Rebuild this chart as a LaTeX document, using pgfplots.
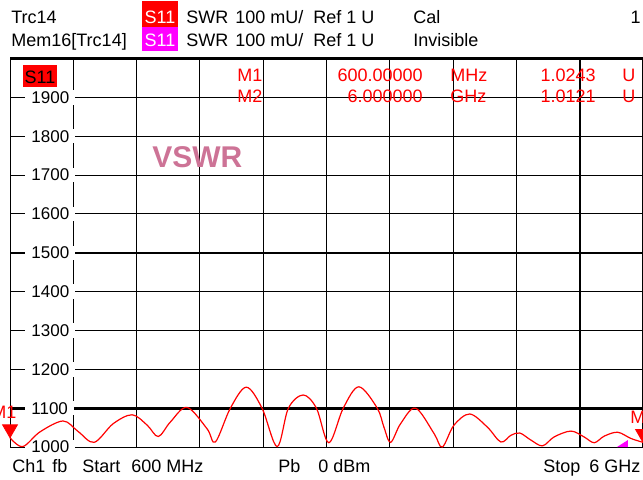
\documentclass[border=0pt]{standalone}
\usepackage{pgfplots}
\pgfplotsset{compat=1.18}
\usepackage{fontspec}
\setmainfont{Liberation Sans}
\definecolor{vswrpink}{RGB}{205,115,150}
\definecolor{trcred}{RGB}{255,0,0}
\definecolor{memmag}{RGB}{255,0,255}
\begin{document}
\begin{tikzpicture}
\begin{axis}[
  set layers,
  at={(5pt,-223.5pt)}, anchor=south west,
  scale only axis, width=316.5pt, height=194.25pt,
  xmin=600, xmax=6000, ymin=1000, ymax=2000,
  xtick={600,1140,1680,2220,2760,3300,3840,4380,4920,5460,6000},
  xticklabels={},
  ytick={1000,1100,1200,1300,1400,1500,1600,1700,1800,1900},
  yticklabels={1000,1100,1200,1300,1400,1500,1600,1700,1800,1900},
  major tick length=0pt,
  grid=major,
  grid style={black, line width=0.5pt},
  axis line style={black, line width=0.5pt},
  yticklabel style={anchor=west, xshift=7.5pt, fill=white, inner xsep=3pt, inner ysep=0.6pt, font=\fontsize{8.5}{10}\selectfont},
  clip=false,
]
\addplot[on layer=axis grid, black, line width=1.5pt] coordinates {(600,1100) (6000,1100)};
\addplot[on layer=axis grid, black, line width=1pt] coordinates {(600,1500) (6000,1500)};
\addplot[on layer=axis grid, black, line width=1pt] coordinates {(5460,1000) (5460,2000)};
\addplot[on layer=axis grid, black, line width=1.5pt] coordinates {(600,2000) (6000,2000)};
\addplot[trcred, line width=0.6pt, smooth, tension=0.55] coordinates {
(600,1024) (708,1001) (856,1039) (1053,1067) (1181,1040) (1318,1012)
(1480,1060) (1642,1083) (1771,1056) (1865,1027) (1967,1064) (2110,1102)
(2281,1047) (2352,1013) (2480,1100) (2616,1154) (2750,1100) (2879,1001)
(2975,1100) (3101,1134) (3214,1100) (3320,1011) (3443,1100) (3576,1155)
(3733,1100) (3790,1051) (3847,1012) (3932,1060) (4060,1100) (4217,1035)
(4288,1000) (4387,1056) (4522,1085) (4673,1051) (4787,1013) (4872,1030)
(4949,1036) (5043,1018) (5143,1003) (5242,1026) (5385,1041) (5497,1026)
(5584,1011) (5669,1028) (5784,1038) (5897,1022) (6000,1012)
};
\addplot[fill=memmag, draw=none] coordinates {(5778,1000) (5872,1000) (5872,1018)} -- cycle;
\addplot[only marks, mark=triangle*, mark size=4.3pt, color=trcred,
  mark options={yshift=4.3pt, rotate=180}] coordinates {(600,1024) (6000,1012)};
\node[trcred, anchor=base, inner sep=0pt, xshift=-3pt, yshift=9.75pt, font=\fontsize{9}{10}\selectfont] at (axis cs:600,1024) {M1};
\node[trcred, anchor=base, inner sep=0pt, yshift=9.5pt, font=\fontsize{9}{10}\selectfont] at (axis cs:6000,1012) {M2};
\end{axis}
\begin{scope}[x=0.5pt, y=-0.5pt, every node/.style={inner sep=0pt, font=\fontsize{9}{10}\selectfont}]
% header line 1
\node[anchor=base west] at (11,23) {Trc14};
\fill[trcred] (142,1) rectangle (178,27);
\node[anchor=base, white] at (160,23) {S11};
\node[anchor=base west] at (186,23) {SWR};
\node[anchor=base west] at (235,23) {100 mU/};
\node[anchor=base west] at (313,23) {Ref 1 U};
\node[anchor=base west] at (413,23) {Cal};
\node[anchor=base east] at (641,23) {1};
% header line 2
\node[anchor=base west] at (11,46) {Mem16[Trc14]};
\fill[memmag] (142,27) rectangle (178,51);
\node[anchor=base, white] at (160,46) {S11};
\node[anchor=base west] at (186,46) {SWR};
\node[anchor=base west] at (235,46) {100 mU/};
\node[anchor=base west] at (313,46) {Ref 1 U};
\node[anchor=base west] at (413,46) {Invisible};
% in-plot S11 tag
\fill[trcred] (23,65) rectangle (57,87);
\node[anchor=base, black] at (40,83) {S11};
% marker table
\node[anchor=base west, trcred] at (237,81) {M1};
\node[anchor=base east, trcred] at (423,81) {600.00000};
\node[anchor=base west, trcred] at (450,81) {MHz};
\node[anchor=base east, trcred] at (596,81) {1.0243};
\node[anchor=base west, trcred] at (622,81) {U};
\node[anchor=base west, trcred] at (237,102) {M2};
\node[anchor=base east, trcred] at (423,102) {6.000000};
\node[anchor=base west, trcred] at (450,102) {GHz};
\node[anchor=base east, trcred] at (596,102) {1.0121};
\node[anchor=base west, trcred] at (622,102) {U};
% VSWR label
\node[anchor=base west, vswrpink, font=\fontsize{15}{17}\selectfont\bfseries] at (152,167) {VSWR};
% bottom line
\node[anchor=base west] at (12,472) {Ch1};
\node[anchor=base west] at (52,472) {fb};
\node[anchor=base west] at (82,472) {Start};
\node[anchor=base west] at (131,472) {600 MHz};
\node[anchor=base west] at (278,472) {Pb};
\node[anchor=base west] at (318,472) {0 dBm};
\node[anchor=base west] at (543,472) {Stop};
\node[anchor=base west] at (589,472) {6 GHz};
\end{scope}
\pgfresetboundingbox
\path[use as bounding box] (0,0) rectangle (321.5pt,-239.5pt);
\end{tikzpicture}
\end{document}
